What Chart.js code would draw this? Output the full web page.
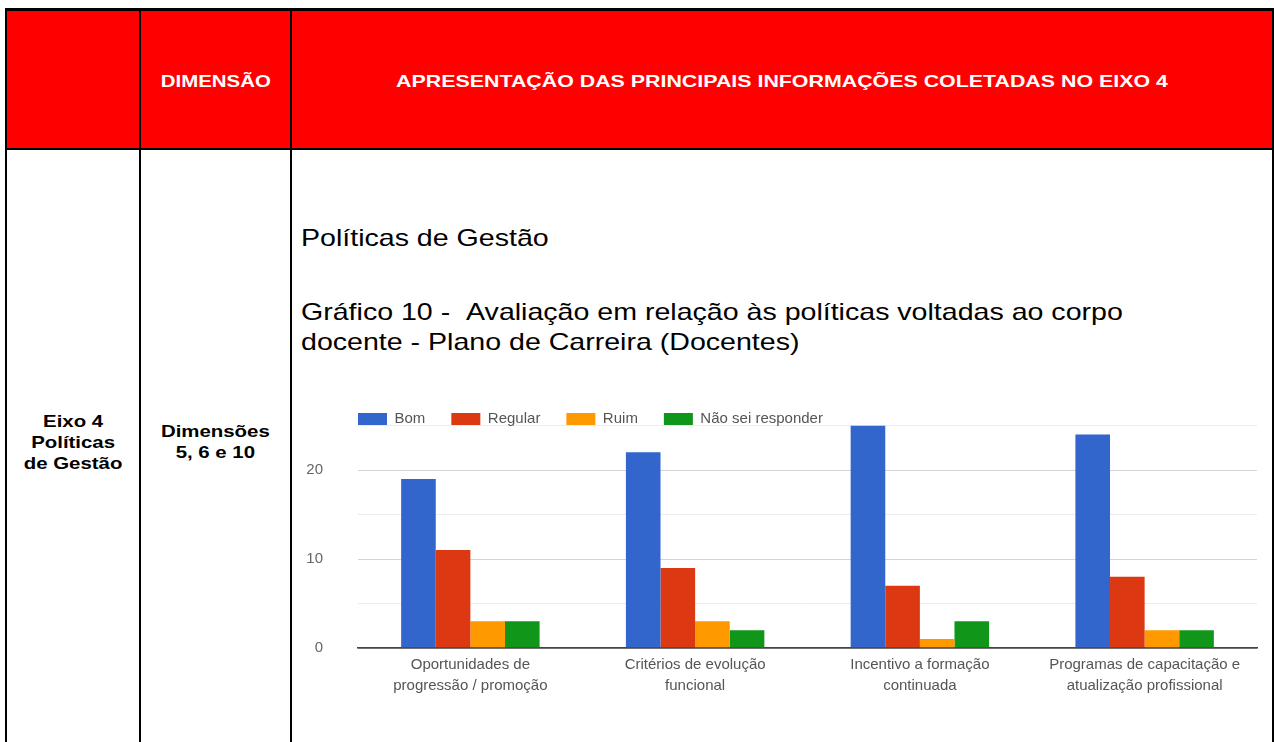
<!DOCTYPE html>
<html><head><meta charset="utf-8">
<script src="https://cdn.jsdelivr.net/npm/chart.js@4.4.1/dist/chart.umd.min.js"></script>
<style>
html,body{margin:0;padding:0;width:1274px;height:742px;overflow:hidden;background:#fff;font-family:Arial,"Liberation Sans",sans-serif;}
.abs{position:absolute;}
.bl{position:absolute;background:#000;}
.sx{display:inline-block;transform:scaleX(1.2);white-space:nowrap;}
.sxl{display:inline-block;transform:scaleX(1.19);transform-origin:left center;white-space:nowrap;}
.hd{position:absolute;top:11px;height:137px;display:flex;align-items:center;justify-content:center;color:#fff;font-weight:bold;font-size:17px;padding-top:5px;box-sizing:border-box;}
.bd{position:absolute;text-align:center;font-weight:bold;font-size:17px;line-height:21px;color:#000;}
</style></head><body>
<!-- header background -->
<div class="abs" style="left:5px;top:8px;width:1269px;height:142px;background:#ff0000"></div>
<!-- borders -->
<div class="bl" style="left:5px;top:8px;width:1269px;height:3px"></div>
<div class="bl" style="left:5px;top:148px;width:1269px;height:2px"></div>
<div class="bl" style="left:5px;top:8px;width:2px;height:740px"></div>
<div class="bl" style="left:139px;top:8px;width:2px;height:740px"></div>
<div class="bl" style="left:290px;top:8px;width:2px;height:740px"></div>
<div class="bl" style="left:1272px;top:8px;width:2px;height:740px"></div>
<!-- header texts -->
<div class="hd" style="left:141px;width:149px"><span class="sx">DIMENSÃO</span></div>
<div class="hd" style="left:292px;width:980px"><span class="sx" style="transform:scaleX(1.257)">APRESENTAÇÃO DAS PRINCIPAIS INFORMAÇÕES COLETADAS NO EIXO 4</span></div>
<!-- body texts -->
<div class="bd" style="left:7px;width:132px;top:411px"><span class="sx">Eixo 4<br>Políticas<br>de Gestão</span></div>
<div class="bd" style="left:141px;width:149px;top:421px"><span class="sx">Dimensões<br>5, 6 e 10</span></div>
<div class="abs" style="left:301px;top:224px;font-size:24px;line-height:28px;color:#000"><span class="sxl">Políticas de Gestão</span></div>
<div class="abs" style="left:301px;top:297px;font-size:24px;line-height:30px;color:#000"><span class="sxl">Gráfico 10 - &nbsp;Avaliação em relação às políticas voltadas ao corpo<br>docente - Plano de Carreira (Docentes)</span></div>
<!-- chart -->
<div class="abs" style="left:292px;top:370px;width:978px;height:350px">
<canvas id="c" width="978" height="350"></canvas>
</div>
<script>
const categories = [
  ['Oportunidades de', 'progressão / promoção'],
  ['Critérios de evolução', 'funcional'],
  ['Incentivo a formação', 'continuada'],
  ['Programas de capacitação e', 'atualização profissional']
];
const seriesNames = ['Bom', 'Regular', 'Ruim', 'Não sei responder'];
const bom = [19, 22, 25, 24];
const regular = [11, 9, 7, 8];
const ruim = [3, 3, 1, 2];
const naoSei = [3, 2, 3, 2];
const labeledTicks = [0, 10, 20];
const yMax = 25;
const yStep = 5;

const colors = ['#3366cc', '#dc3912', '#ff9900', '#109618'];
const values = [bom, regular, ruim, naoSei];

// move the legend row so it starts at the plot's left edge, just above the plot
const legendShift = {
  id: 'legendShift',
  afterLayout(chart) {
    const l = chart.legend;
    if (l) { l.top += 11; l.bottom += 11; l.left += 40; l.right += 40; }
  }
};

const FONT = 'Arial, "Liberation Sans", sans-serif';

new Chart(document.getElementById('c'), {
  type: 'bar',
  data: {
    labels: categories,
    datasets: seriesNames.map((n, i) => ({
      label: n,
      data: values[i],
      backgroundColor: colors[i],
      borderWidth: 0,
      categoryPercentage: 0.616,
      barPercentage: 1.0
    }))
  },
  options: {
    responsive: false,
    animation: false,
    devicePixelRatio: 1,
    layout: { padding: { left: 0, right: 13, top: 4.5, bottom: 0 } },
    plugins: {
      legend: {
        position: 'top',
        align: 'start',
        labels: {
          boxWidth: 29,
          boxHeight: 12,
          padding: 26,
          color: '#555',
          font: { family: FONT, size: 15 }
        }
      },
      tooltip: { enabled: false },
      title: { display: false }
    },
    scales: {
      x: {
        grid: { display: false, drawTicks: false },
        border: { display: true, color: '#444', width: 1.5 },
        ticks: {
          color: '#555',
          padding: 6.5,
          maxRotation: 0,
          autoSkip: false,
          font: { family: FONT, size: 15, lineHeight: 1.4 }
        },
        afterFit(s) { s.height = 72; }
      },
      y: {
        min: 0,
        max: yMax,
        border: { display: false },
        grid: {
          drawTicks: false,
          color: (ctx) => ctx.tick.value === 0 ? '#444' : (labeledTicks.includes(ctx.tick.value) ? '#d4d4d4' : '#ececec'),
          lineWidth: (ctx) => ctx.tick.value === 0 ? 1.5 : 1
        },
        ticks: {
          stepSize: yStep,
          color: '#666',
          padding: 35,
          font: { family: FONT, size: 15 },
          callback: (v) => labeledTicks.includes(v) ? String(v) : ''
        },
        afterFit(s) { s.width = 66; }
      }
    }
  },
  plugins: [legendShift]
});
</script>
</body></html>
